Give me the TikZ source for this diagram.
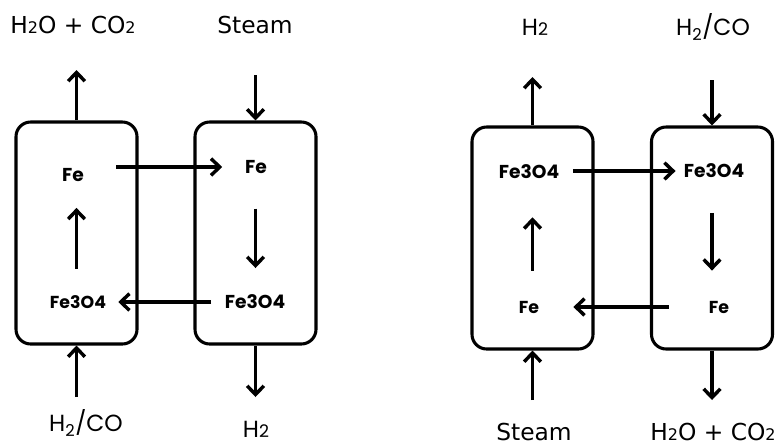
\documentclass[tikz,border=0pt]{standalone}
\usepackage{fontspec}
\setmainfont{DejaVu Sans}
\newfontfamily\popfont{Poppins}
\usepackage{tikz}
\usetikzlibrary{positioning,arrows.meta}
\newcommand{\lowtwo}{{\fontsize{12}{12}\selectfont 2}}
\newcommand{\popltwo}{{\fontsize{13}{13}\selectfont 2}}

\begin{document}
\begin{tikzpicture}[x=0.75pt, y=-0.75pt,
  reactor/.style={draw, line width=2.3pt, rounded corners=11pt, minimum width=90.75pt, minimum height=166.5pt},
  species/.style={font=\popfont\bfseries\fontsize{14}{14}\selectfont, inner sep=0pt},
  gas/.style={font=\fontsize{17.5}{18}\selectfont, inner sep=0pt},
  popgas/.style={font=\popfont\fontsize{17.5}{18}\selectfont, inner sep=0pt},
  flow/.style={line width=2.6pt, -{Straight Barb[length=6.5pt, width=12.5pt]}}]
  \useasboundingbox (0,0) rectangle (777,446);

  % left pair
  \node[reactor] (redL) at (76.5,233) {};
  \node[reactor] (oxL) at (255.5,233) {};
  \node[gas] (outRedL) at (73,25) {H\lowtwo O + CO\lowtwo};
  \node[gas] (inOxL) at (255,25) {Steam};
  \node[popgas] (inRedL) at (86,423) {H\textsubscript{2}/CO};
  \node[popgas] (outOxL) at (256,429) {H\popltwo};
  \node[species] (feRedL) at (73,175) {Fe};
  \node[species] (feOxL) at (256,167) {Fe};
  \node[species, font=\popfont\bfseries\fontsize{13}{13}\selectfont] (mgRedL) at (78,302) {Fe3O4};
  \node[species] (mgOxL) at (255,302) {Fe3O4};

  \coordinate (topRedL) at (76.5,70);
  \coordinate (topOxL) at (255.5,75);
  \coordinate (botRedL) at (76.5,397);
  \coordinate (botOxL) at (255.5,397);
  \draw[flow] (redL.north) -- (topRedL);
  \draw[flow] (topOxL) -- (oxL.north);
  \draw[flow] (botRedL) -- (redL.south);
  \draw[flow] (oxL.south) -- (botOxL);
  \draw[flow, shorten <=24pt, shorten >=17pt] (feRedL.east |- feOxL.west) -- (feOxL.west);
  \draw[flow, shorten <=10pt, shorten >=9pt] (mgOxL.west) -- (mgRedL.east);
  \draw[flow, shorten <=20pt, shorten >=19.5pt] (mgRedL.north -| redL) -- (feRedL.south -| redL);
  \draw[flow, shorten <=26pt, shorten >=20pt] (feOxL.south -| oxL) -- (mgOxL.north -| oxL);

  % right pair
  \node[reactor] (oxR) at (532.5,238) {};
  \node[reactor] (redR) at (712,238) {};
  \node[popgas] (outOxR) at (535,27) {H\popltwo};
  \node[popgas] (inRedR) at (713,27) {H\textsubscript{2}/CO};
  \node[gas] (inOxR) at (534,432) {Steam};
  \node[gas] (outRedR) at (713,432) {H\lowtwo O + CO\lowtwo};
  \node[species] (mgOxR) at (529,172) {Fe3O4};
  \node[species] (mgRedR) at (714,171) {Fe3O4};
  \node[species, font=\popfont\bfseries\fontsize{13}{13}\selectfont] (feOxR) at (529,307) {Fe};
  \node[species, font=\popfont\bfseries\fontsize{13}{13}\selectfont] (feRedR) at (719,307) {Fe};

  \coordinate (topOxR) at (532.5,77);
  \coordinate (topRedR) at (712,80);
  \coordinate (botOxR) at (532.5,400);
  \coordinate (botRedR) at (712,400);
  \draw[flow] (oxR.north) -- (topOxR);
  \draw[flow] (topRedR) -- (redR.north);
  \draw[flow] (botOxR) -- (oxR.south);
  \draw[flow] (redR.south) -- (botRedR);
  \draw[flow, shorten <=10pt, shorten >=6pt] (mgOxR.east |- mgRedR.west) -- (mgRedR.west);
  \draw[flow, shorten <=30pt, shorten >=25.5pt] (feRedR.west) -- (feOxR.east);
  \draw[flow, shorten <=22.5pt, shorten >=28.5pt] (feOxR.north -| oxR) -- (mgOxR.south -| oxR);
  \draw[flow, shorten <=26pt, shorten >=22.5pt] (mgRedR.south -| redR) -- (feRedR.north -| redR);
\end{tikzpicture}
\end{document}
